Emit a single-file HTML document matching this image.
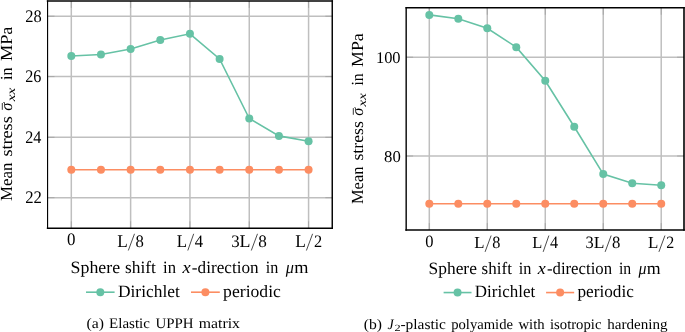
<!DOCTYPE html>
<html><head><meta charset="utf-8"><style>
html,body{margin:0;padding:0;background:#fff;}
svg{display:block;font-family:"Liberation Serif",serif;fill:#000;text-rendering:geometricPrecision;}
</style></head><body>
<svg width="685" height="332" viewBox="0 0 685 332">
<rect width="685" height="332" fill="#fff"/>
<g opacity="0.999">
<line x1="71.3" y1="1" x2="71.3" y2="228.25" stroke="#bfbfbf" stroke-width="1.5"/>
<line x1="71.3" y1="1" x2="71.3" y2="7.9" stroke="#a0a0a0" stroke-width="0.8"/>
<line x1="71.3" y1="228.25" x2="71.3" y2="221.35" stroke="#a0a0a0" stroke-width="0.8"/>
<line x1="130.62" y1="1" x2="130.62" y2="228.25" stroke="#bfbfbf" stroke-width="1.5"/>
<line x1="130.62" y1="1" x2="130.62" y2="7.9" stroke="#a0a0a0" stroke-width="0.8"/>
<line x1="130.62" y1="228.25" x2="130.62" y2="221.35" stroke="#a0a0a0" stroke-width="0.8"/>
<line x1="189.94" y1="1" x2="189.94" y2="228.25" stroke="#bfbfbf" stroke-width="1.5"/>
<line x1="189.94" y1="1" x2="189.94" y2="7.9" stroke="#a0a0a0" stroke-width="0.8"/>
<line x1="189.94" y1="228.25" x2="189.94" y2="221.35" stroke="#a0a0a0" stroke-width="0.8"/>
<line x1="249.26" y1="1" x2="249.26" y2="228.25" stroke="#bfbfbf" stroke-width="1.5"/>
<line x1="249.26" y1="1" x2="249.26" y2="7.9" stroke="#a0a0a0" stroke-width="0.8"/>
<line x1="249.26" y1="228.25" x2="249.26" y2="221.35" stroke="#a0a0a0" stroke-width="0.8"/>
<line x1="308.58" y1="1" x2="308.58" y2="228.25" stroke="#bfbfbf" stroke-width="1.5"/>
<line x1="308.58" y1="1" x2="308.58" y2="7.9" stroke="#a0a0a0" stroke-width="0.8"/>
<line x1="308.58" y1="228.25" x2="308.58" y2="221.35" stroke="#a0a0a0" stroke-width="0.8"/>
<line x1="47.57" y1="16.2" x2="332.25" y2="16.2" stroke="#bfbfbf" stroke-width="1.5"/>
<line x1="47.57" y1="16.2" x2="54.47" y2="16.2" stroke="#a0a0a0" stroke-width="0.8"/>
<line x1="332.25" y1="16.2" x2="325.35" y2="16.2" stroke="#a0a0a0" stroke-width="0.8"/>
<line x1="47.57" y1="76.6" x2="332.25" y2="76.6" stroke="#bfbfbf" stroke-width="1.5"/>
<line x1="47.57" y1="76.6" x2="54.47" y2="76.6" stroke="#a0a0a0" stroke-width="0.8"/>
<line x1="332.25" y1="76.6" x2="325.35" y2="76.6" stroke="#a0a0a0" stroke-width="0.8"/>
<line x1="47.57" y1="137.3" x2="332.25" y2="137.3" stroke="#bfbfbf" stroke-width="1.5"/>
<line x1="47.57" y1="137.3" x2="54.47" y2="137.3" stroke="#a0a0a0" stroke-width="0.8"/>
<line x1="332.25" y1="137.3" x2="325.35" y2="137.3" stroke="#a0a0a0" stroke-width="0.8"/>
<line x1="47.57" y1="197.7" x2="332.25" y2="197.7" stroke="#bfbfbf" stroke-width="1.5"/>
<line x1="47.57" y1="197.7" x2="54.47" y2="197.7" stroke="#a0a0a0" stroke-width="0.8"/>
<line x1="332.25" y1="197.7" x2="325.35" y2="197.7" stroke="#a0a0a0" stroke-width="0.8"/>
<polyline fill="none" stroke="#fc8d62" stroke-width="1.6" points="71.3,169.8 100.96,169.8 130.62,169.8 160.28,169.8 189.94,169.8 219.6,169.8 249.26,169.8 278.92,169.8 308.58,169.8"/>
<circle cx="71.3" cy="169.8" r="4.0" fill="#fc8d62"/>
<circle cx="100.96" cy="169.8" r="4.0" fill="#fc8d62"/>
<circle cx="130.62" cy="169.8" r="4.0" fill="#fc8d62"/>
<circle cx="160.28" cy="169.8" r="4.0" fill="#fc8d62"/>
<circle cx="189.94" cy="169.8" r="4.0" fill="#fc8d62"/>
<circle cx="219.6" cy="169.8" r="4.0" fill="#fc8d62"/>
<circle cx="249.26" cy="169.8" r="4.0" fill="#fc8d62"/>
<circle cx="278.92" cy="169.8" r="4.0" fill="#fc8d62"/>
<circle cx="308.58" cy="169.8" r="4.0" fill="#fc8d62"/>
<polyline fill="none" stroke="#66c2a5" stroke-width="1.6" points="71.3,56 100.96,54.5 130.62,49 160.28,40 189.94,33.8 219.6,58.9 249.26,118.5 278.92,135.9 308.58,141.2"/>
<circle cx="71.3" cy="56" r="4.0" fill="#66c2a5"/>
<circle cx="100.96" cy="54.5" r="4.0" fill="#66c2a5"/>
<circle cx="130.62" cy="49" r="4.0" fill="#66c2a5"/>
<circle cx="160.28" cy="40" r="4.0" fill="#66c2a5"/>
<circle cx="189.94" cy="33.8" r="4.0" fill="#66c2a5"/>
<circle cx="219.6" cy="58.9" r="4.0" fill="#66c2a5"/>
<circle cx="249.26" cy="118.5" r="4.0" fill="#66c2a5"/>
<circle cx="278.92" cy="135.9" r="4.0" fill="#66c2a5"/>
<circle cx="308.58" cy="141.2" r="4.0" fill="#66c2a5"/>
<g stroke="#000" stroke-linecap="square"><line x1="47.57" y1="1" x2="47.57" y2="228.25" stroke-width="1.15"/><line x1="332.25" y1="1" x2="332.25" y2="228.25" stroke-width="1.45"/><line x1="47.57" y1="1" x2="332.25" y2="1" stroke-width="1.6"/><line x1="47.57" y1="228.25" x2="332.25" y2="228.25" stroke-width="1.5"/></g>
<line x1="429.3" y1="7.85" x2="429.3" y2="230.0" stroke="#bfbfbf" stroke-width="1.5"/>
<line x1="429.3" y1="7.85" x2="429.3" y2="14.75" stroke="#a0a0a0" stroke-width="0.8"/>
<line x1="429.3" y1="230.0" x2="429.3" y2="223.1" stroke="#a0a0a0" stroke-width="0.8"/>
<line x1="487.28" y1="7.85" x2="487.28" y2="230.0" stroke="#bfbfbf" stroke-width="1.5"/>
<line x1="487.28" y1="7.85" x2="487.28" y2="14.75" stroke="#a0a0a0" stroke-width="0.8"/>
<line x1="487.28" y1="230.0" x2="487.28" y2="223.1" stroke="#a0a0a0" stroke-width="0.8"/>
<line x1="545.26" y1="7.85" x2="545.26" y2="230.0" stroke="#bfbfbf" stroke-width="1.5"/>
<line x1="545.26" y1="7.85" x2="545.26" y2="14.75" stroke="#a0a0a0" stroke-width="0.8"/>
<line x1="545.26" y1="230.0" x2="545.26" y2="223.1" stroke="#a0a0a0" stroke-width="0.8"/>
<line x1="603.24" y1="7.85" x2="603.24" y2="230.0" stroke="#bfbfbf" stroke-width="1.5"/>
<line x1="603.24" y1="7.85" x2="603.24" y2="14.75" stroke="#a0a0a0" stroke-width="0.8"/>
<line x1="603.24" y1="230.0" x2="603.24" y2="223.1" stroke="#a0a0a0" stroke-width="0.8"/>
<line x1="661.22" y1="7.85" x2="661.22" y2="230.0" stroke="#bfbfbf" stroke-width="1.5"/>
<line x1="661.22" y1="7.85" x2="661.22" y2="14.75" stroke="#a0a0a0" stroke-width="0.8"/>
<line x1="661.22" y1="230.0" x2="661.22" y2="223.1" stroke="#a0a0a0" stroke-width="0.8"/>
<line x1="406.17" y1="57.2" x2="684" y2="57.2" stroke="#bfbfbf" stroke-width="1.5"/>
<line x1="406.17" y1="57.2" x2="413.07" y2="57.2" stroke="#a0a0a0" stroke-width="0.8"/>
<line x1="684" y1="57.2" x2="677.1" y2="57.2" stroke="#a0a0a0" stroke-width="0.8"/>
<line x1="406.17" y1="156" x2="684" y2="156" stroke="#bfbfbf" stroke-width="1.5"/>
<line x1="406.17" y1="156" x2="413.07" y2="156" stroke="#a0a0a0" stroke-width="0.8"/>
<line x1="684" y1="156" x2="677.1" y2="156" stroke="#a0a0a0" stroke-width="0.8"/>
<polyline fill="none" stroke="#fc8d62" stroke-width="1.6" points="429.3,203.8 458.29,203.8 487.28,203.8 516.27,203.8 545.26,203.8 574.25,203.8 603.24,203.8 632.23,203.8 661.22,203.8"/>
<circle cx="429.3" cy="203.8" r="4.0" fill="#fc8d62"/>
<circle cx="458.29" cy="203.8" r="4.0" fill="#fc8d62"/>
<circle cx="487.28" cy="203.8" r="4.0" fill="#fc8d62"/>
<circle cx="516.27" cy="203.8" r="4.0" fill="#fc8d62"/>
<circle cx="545.26" cy="203.8" r="4.0" fill="#fc8d62"/>
<circle cx="574.25" cy="203.8" r="4.0" fill="#fc8d62"/>
<circle cx="603.24" cy="203.8" r="4.0" fill="#fc8d62"/>
<circle cx="632.23" cy="203.8" r="4.0" fill="#fc8d62"/>
<circle cx="661.22" cy="203.8" r="4.0" fill="#fc8d62"/>
<polyline fill="none" stroke="#66c2a5" stroke-width="1.6" points="429.3,14.9 458.29,18.7 487.28,28.3 516.27,47.2 545.26,80.8 574.25,126.7 603.24,174.1 632.23,183.3 661.22,185.2"/>
<circle cx="429.3" cy="14.9" r="4.0" fill="#66c2a5"/>
<circle cx="458.29" cy="18.7" r="4.0" fill="#66c2a5"/>
<circle cx="487.28" cy="28.3" r="4.0" fill="#66c2a5"/>
<circle cx="516.27" cy="47.2" r="4.0" fill="#66c2a5"/>
<circle cx="545.26" cy="80.8" r="4.0" fill="#66c2a5"/>
<circle cx="574.25" cy="126.7" r="4.0" fill="#66c2a5"/>
<circle cx="603.24" cy="174.1" r="4.0" fill="#66c2a5"/>
<circle cx="632.23" cy="183.3" r="4.0" fill="#66c2a5"/>
<circle cx="661.22" cy="185.2" r="4.0" fill="#66c2a5"/>
<g stroke="#000" stroke-linecap="square"><line x1="406.17" y1="7.85" x2="406.17" y2="230.0" stroke-width="1.4"/><line x1="684" y1="7.85" x2="684" y2="230.0" stroke-width="1.6"/><line x1="406.17" y1="7.85" x2="684" y2="7.85" stroke-width="1.5"/><line x1="406.17" y1="230.0" x2="684" y2="230.0" stroke-width="1.6"/></g>
<text transform="translate(25.19,21.75) scale(1.0397,1.12)" font-size="15.8">28</text>
<text transform="translate(25.2,82.15) scale(1.0226,1.12)" font-size="15.8">26</text>
<text transform="translate(25.2,142.85) scale(1.0226,1.12)" font-size="15.8">24</text>
<text transform="translate(25.18,203.25) scale(1.0573,1.12)" font-size="15.8">22</text>
<text transform="translate(375.91,62.7) scale(1.0422,1.04)" font-size="15.8">100</text>
<text transform="translate(384.08,161.5) scale(1.0599,1.04)" font-size="15.8">80</text>
<text transform="translate(66.97,245.3) scale(1.0705,1.11)" font-size="15.8">0</text>
<text transform="translate(117.13,246.6) scale(1.0879,1.13)" font-size="15.8">L</text>
<line x1="128.3" y1="250.5" x2="134.5" y2="233.8" stroke="#111" stroke-width="0.75"/>
<text transform="translate(135.58,246.6) scale(1.0561,1.11)" font-size="15.8">8</text>
<text transform="translate(176.74,246.6) scale(1.0647,1.13)" font-size="15.8">L</text>
<line x1="187.8" y1="250.5" x2="193.7" y2="233.8" stroke="#111" stroke-width="0.75"/>
<text transform="translate(194.84,246.6) scale(1.0532,1.11)" font-size="15.8">4</text>
<text transform="translate(231.21,246.6) scale(1.0652,1.11)" font-size="15.8">3</text>
<text transform="translate(239.52,246.6) scale(1.1342,1.13)" font-size="15.8">L</text>
<line x1="251.3" y1="250.5" x2="257.5" y2="233.8" stroke="#111" stroke-width="0.75"/>
<text transform="translate(258.26,246.6) scale(1.0850,1.11)" font-size="15.8">8</text>
<text transform="translate(295.33,246.6) scale(1.0995,1.13)" font-size="15.8">L</text>
<line x1="306.4" y1="250.5" x2="312.6" y2="233.8" stroke="#111" stroke-width="0.75"/>
<text transform="translate(313.99,246.6) scale(1.0352,1.11)" font-size="15.8">2</text>
<text transform="translate(425.22,246.78) scale(1.0448,1.1)" font-size="15.8">0</text>
<text transform="translate(474.18,248.05) scale(1.0618,1.06)" font-size="15.8">L</text>
<line x1="485.09" y1="251.86" x2="491.12" y2="235.56" stroke="#111" stroke-width="0.75"/>
<text transform="translate(492.18,248.05) scale(1.0307,1.1)" font-size="15.8">8</text>
<text transform="translate(532.36,248.05) scale(1.0392,1.06)" font-size="15.8">L</text>
<line x1="543.16" y1="251.86" x2="548.9" y2="235.56" stroke="#111" stroke-width="0.75"/>
<text transform="translate(550.02,248.05) scale(1.0279,1.1)" font-size="15.8">4</text>
<text transform="translate(585.52,248.05) scale(1.0396,1.1)" font-size="15.8">3</text>
<text transform="translate(593.63,248.05) scale(1.1070,1.06)" font-size="15.8">L</text>
<line x1="605.14" y1="251.86" x2="611.17" y2="235.56" stroke="#111" stroke-width="0.75"/>
<text transform="translate(611.93,248.05) scale(1.0590,1.1)" font-size="15.8">8</text>
<text transform="translate(648.1,248.05) scale(1.0731,1.06)" font-size="15.8">L</text>
<line x1="658.91" y1="251.86" x2="664.95" y2="235.56" stroke="#111" stroke-width="0.75"/>
<text transform="translate(666.31,248.05) scale(1.0103,1.1)" font-size="15.8">2</text>
<text transform="translate(70.59,272.9) scale(1.1143,1.08)" font-size="16">Sphere</text>
<text transform="translate(428.55,273.72) scale(1.0875,1.08)" font-size="16">Sphere</text>
<text transform="translate(124.96,272.9) scale(1.0893,1.08)" font-size="16">shift</text>
<text transform="translate(481.62,273.72) scale(1.0631,1.08)" font-size="16">shift</text>
<text transform="translate(163.04,272.9) scale(1.0414,1.08)" font-size="16">in</text>
<text transform="translate(518.79,273.72) scale(1.0164,1.08)" font-size="16">in</text>
<text transform="translate(182.49,272.9) scale(1.1448,1.08)" font-size="16" font-style="italic">x</text>
<text transform="translate(537.77,273.72) scale(1.1174,1.08)" font-size="16" font-style="italic">x</text>
<text transform="translate(191.86,272.9) scale(1.0730,1.08)" font-size="16">-direction</text>
<text transform="translate(546.92,273.72) scale(1.0473,1.08)" font-size="16">-direction</text>
<text transform="translate(265.65,272.9) scale(1.0086,1.08)" font-size="16">in</text>
<text transform="translate(618.93,273.72) scale(0.9844,1.08)" font-size="16">in</text>
<text transform="translate(285.65,272.9) scale(1.0194,1.08)" font-size="16" font-style="italic">μ</text>
<text transform="translate(638.46,273.72) scale(0.9949,1.08)" font-size="16" font-style="italic">μ</text>
<text transform="translate(294.21,272.9) scale(1.1417,1.08)" font-size="16">m</text>
<text transform="translate(646.81,273.72) scale(1.1143,1.08)" font-size="16">m</text>
<line x1="86" y1="292.2" x2="114.6" y2="292.2" stroke="#66c2a5" stroke-width="1.6"/><circle cx="100.3" cy="292.2" r="4.0" fill="#66c2a5"/>
<line x1="191" y1="292.2" x2="219.8" y2="292.2" stroke="#fc8d62" stroke-width="1.6"/><circle cx="205.4" cy="292.2" r="4.0" fill="#fc8d62"/>
<text transform="translate(117.93,296.5) scale(1.0887,1.08)" font-size="16">Dirichlet</text>
<text transform="translate(223.12,296.5) scale(1.1019,1.08)" font-size="16">periodic</text>
<line x1="443.6" y1="292.56" x2="471.51" y2="292.56" stroke="#66c2a5" stroke-width="1.6"/><circle cx="457.55" cy="292.56" r="4.0" fill="#66c2a5"/>
<line x1="546.08" y1="292.56" x2="574.18" y2="292.56" stroke="#fc8d62" stroke-width="1.6"/><circle cx="560.13" cy="292.56" r="4.0" fill="#fc8d62"/>
<text transform="translate(474.76,296.76) scale(1.0626,1.08)" font-size="16">Dirichlet</text>
<text transform="translate(577.43,296.76) scale(1.0754,1.08)" font-size="16">periodic</text>
<text transform="translate(11.7,200.96) rotate(-90) scale(1.0531,1.06)" font-size="16">Mean</text>
<text transform="translate(11.7,156.57) rotate(-90) scale(1.1337,1.06)" font-size="16">stress</text>
<text transform="translate(11.7,110.76) rotate(-90) scale(1.0303,1.06)" font-size="16" font-style="italic">σ</text>
<text transform="translate(14.7,101.29) rotate(-90) scale(1.3863,1.06)" font-size="11" font-style="italic">xx</text>
<text transform="translate(11.7,79.95) rotate(-90) scale(1.0086,1.06)" font-size="16">in</text>
<text transform="translate(11.7,60.98) rotate(-90) scale(1.1381,1.06)" font-size="16">MPa</text>
<line x1="2.3" y1="109.8" x2="2.3" y2="103" stroke="#000" stroke-width="0.8"/>
<text transform="translate(362.7,204.12) rotate(-90) scale(1.0320,1.06)" font-size="16">Mean</text>
<text transform="translate(362.7,160.61) rotate(-90) scale(1.1110,1.06)" font-size="16">stress</text>
<text transform="translate(362.7,115.72) rotate(-90) scale(1.0097,1.06)" font-size="16" font-style="italic">σ</text>
<text transform="translate(365.7,106.44) rotate(-90) scale(1.3586,1.06)" font-size="11" font-style="italic">xx</text>
<text transform="translate(362.7,85.53) rotate(-90) scale(0.9884,1.06)" font-size="16">in</text>
<text transform="translate(362.7,66.94) rotate(-90) scale(1.1153,1.06)" font-size="16">MPa</text>
<line x1="353.3" y1="114.78" x2="353.3" y2="108.11" stroke="#000" stroke-width="0.8"/>
<text transform="translate(86.51,328.45) scale(1.1237,1.04)" font-size="14.0">(a)</text>
<text transform="translate(109.07,328.45) scale(1.0727,1.04)" font-size="14.0">Elastic</text>
<text transform="translate(155.47,328.45) scale(1.0649,1.04)" font-size="14.0">UPPH</text>
<text transform="translate(198.85,328.45) scale(1.1259,1.04)" font-size="14.0">matrix</text>
<text transform="translate(363.71,328.55) scale(1.1183,1.04)" font-size="14.0">(b)</text>
<text transform="translate(387.5,328.55) scale(1.0028,1.04)" font-size="14.0" font-style="italic">J</text>
<text transform="translate(400.42,328.55) scale(1.1047,1.04)" font-size="14.0">-plastic</text>
<text transform="translate(451.17,328.55) scale(1.0466,1.04)" font-size="14.0">polyamide</text>
<text transform="translate(518.4,328.55) scale(1.0526,1.04)" font-size="14.0">with</text>
<text transform="translate(549.97,328.55) scale(1.0502,1.04)" font-size="14.0">isotropic</text>
<text transform="translate(607.2,328.55) scale(1.0778,1.04)" font-size="14.0">hardening</text>
<text transform="translate(394.48,330.5) scale(1.2987,1.0)" font-size="9.5">2</text>
</g>
</svg></body></html>
